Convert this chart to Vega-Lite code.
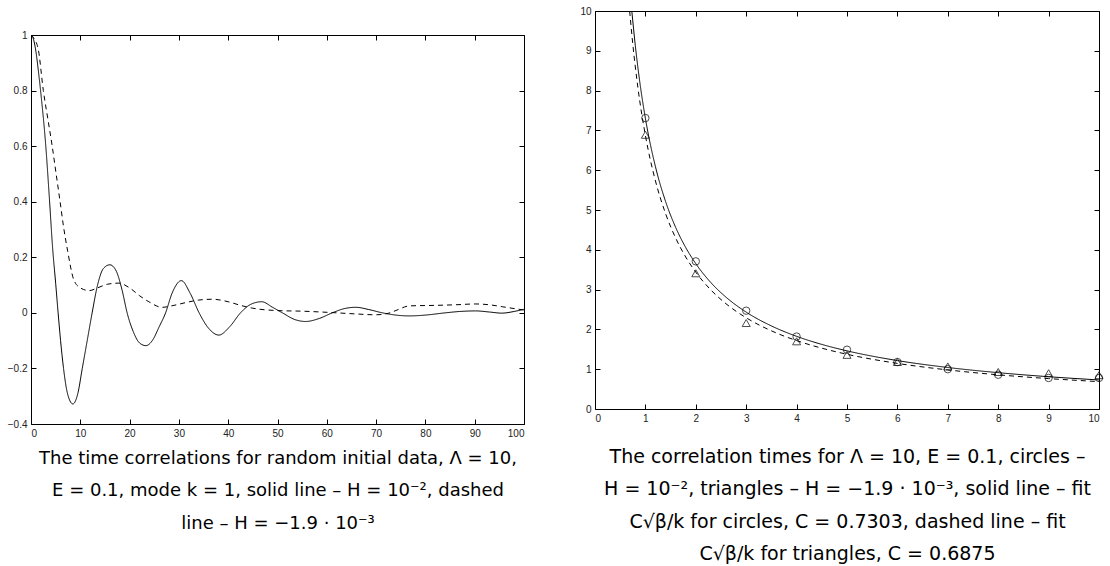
{
  "$schema": "https://vega.github.io/schema/vega-lite/v6.json",
  "padding": {"left": 6, "top": 5, "right": 0, "bottom": 0},
  "background": "white",
  "config": {
    "view": {"stroke": "black", "strokeWidth": 1},
    "font": "DejaVu Sans",
    "axis": {"domain": false, "grid": false, "tickColor": "black", "tickSize": -5, "labelPadding": 9, "labelFont": "Liberation Sans", "labelFontSize": 10, "labelColor": "#222", "titleFont": "DejaVu Sans", "titleFontSize": 19, "titleFontWeight": "normal", "titleColor": "black", "titleLineHeight": 32.5}
  },
  "datasets": {
    "corr": [
      {"t": 0, "v": 1, "series": "solid"},
      {"t": 0.5, "v": 0.985, "series": "solid"},
      {"t": 1, "v": 0.94, "series": "solid"},
      {"t": 1.5, "v": 0.87, "series": "solid"},
      {"t": 2, "v": 0.79, "series": "solid"},
      {"t": 3, "v": 0.6, "series": "solid"},
      {"t": 3.7, "v": 0.42, "series": "solid"},
      {"t": 4.4, "v": 0.23, "series": "solid"},
      {"t": 5, "v": 0.107, "series": "solid"},
      {"t": 5.5, "v": 0.0, "series": "solid"},
      {"t": 6, "v": -0.1, "series": "solid"},
      {"t": 6.6, "v": -0.2, "series": "solid"},
      {"t": 7.4, "v": -0.29, "series": "solid"},
      {"t": 8.5, "v": -0.328, "series": "solid"},
      {"t": 9.5, "v": -0.29, "series": "solid"},
      {"t": 10.4, "v": -0.2, "series": "solid"},
      {"t": 11.5, "v": -0.09, "series": "solid"},
      {"t": 12.4, "v": 0.0, "series": "solid"},
      {"t": 13.5, "v": 0.1, "series": "solid"},
      {"t": 14.7, "v": 0.16, "series": "solid"},
      {"t": 16, "v": 0.173, "series": "solid"},
      {"t": 17.3, "v": 0.15, "series": "solid"},
      {"t": 18.5, "v": 0.08, "series": "solid"},
      {"t": 19.5, "v": 0.0, "series": "solid"},
      {"t": 20.8, "v": -0.07, "series": "solid"},
      {"t": 22, "v": -0.108, "series": "solid"},
      {"t": 23.3, "v": -0.118, "series": "solid"},
      {"t": 24.6, "v": -0.1, "series": "solid"},
      {"t": 26, "v": -0.05, "series": "solid"},
      {"t": 27.3, "v": 0.0, "series": "solid"},
      {"t": 28.6, "v": 0.07, "series": "solid"},
      {"t": 30.5, "v": 0.116, "series": "solid"},
      {"t": 32.3, "v": 0.07, "series": "solid"},
      {"t": 34.1, "v": 0.0, "series": "solid"},
      {"t": 36, "v": -0.055, "series": "solid"},
      {"t": 38.1, "v": -0.08, "series": "solid"},
      {"t": 40.3, "v": -0.05, "series": "solid"},
      {"t": 42.5, "v": 0.0, "series": "solid"},
      {"t": 44.5, "v": 0.03, "series": "solid"},
      {"t": 46.8, "v": 0.04, "series": "solid"},
      {"t": 49, "v": 0.02, "series": "solid"},
      {"t": 51, "v": 0.0, "series": "solid"},
      {"t": 53.5, "v": -0.024, "series": "solid"},
      {"t": 55.7, "v": -0.031, "series": "solid"},
      {"t": 58.5, "v": -0.02, "series": "solid"},
      {"t": 61.1, "v": 0.0, "series": "solid"},
      {"t": 63.5, "v": 0.015, "series": "solid"},
      {"t": 65.9, "v": 0.02, "series": "solid"},
      {"t": 68.5, "v": 0.012, "series": "solid"},
      {"t": 71.3, "v": 0.0, "series": "solid"},
      {"t": 74, "v": -0.008, "series": "solid"},
      {"t": 76.7, "v": -0.011, "series": "solid"},
      {"t": 80, "v": -0.008, "series": "solid"},
      {"t": 84, "v": 0.0, "series": "solid"},
      {"t": 87, "v": 0.005, "series": "solid"},
      {"t": 90.2, "v": 0.007, "series": "solid"},
      {"t": 93, "v": 0.003, "series": "solid"},
      {"t": 95.5, "v": -0.001, "series": "solid"},
      {"t": 98, "v": 0.005, "series": "solid"},
      {"t": 100, "v": 0.013, "series": "solid"},
      {"t": 0, "v": 1, "series": "dashed"},
      {"t": 0.7, "v": 0.985, "series": "dashed"},
      {"t": 1.5, "v": 0.946, "series": "dashed"},
      {"t": 2.5, "v": 0.8, "series": "dashed"},
      {"t": 3.4, "v": 0.7, "series": "dashed"},
      {"t": 4.3, "v": 0.6, "series": "dashed"},
      {"t": 5.1, "v": 0.5, "series": "dashed"},
      {"t": 5.9, "v": 0.4, "series": "dashed"},
      {"t": 6.6, "v": 0.31, "series": "dashed"},
      {"t": 7.4, "v": 0.226, "series": "dashed"},
      {"t": 8.7, "v": 0.118, "series": "dashed"},
      {"t": 10, "v": 0.09, "series": "dashed"},
      {"t": 11.8, "v": 0.08, "series": "dashed"},
      {"t": 13.5, "v": 0.09, "series": "dashed"},
      {"t": 15.5, "v": 0.103, "series": "dashed"},
      {"t": 17.8, "v": 0.107, "series": "dashed"},
      {"t": 20, "v": 0.09, "series": "dashed"},
      {"t": 22, "v": 0.062, "series": "dashed"},
      {"t": 23.9, "v": 0.04, "series": "dashed"},
      {"t": 26.6, "v": 0.02, "series": "dashed"},
      {"t": 29, "v": 0.027, "series": "dashed"},
      {"t": 31.4, "v": 0.037, "series": "dashed"},
      {"t": 34, "v": 0.046, "series": "dashed"},
      {"t": 36.8, "v": 0.049, "series": "dashed"},
      {"t": 40, "v": 0.04, "series": "dashed"},
      {"t": 42.5, "v": 0.027, "series": "dashed"},
      {"t": 44.9, "v": 0.017, "series": "dashed"},
      {"t": 50.3, "v": 0.008, "series": "dashed"},
      {"t": 55, "v": 0.006, "series": "dashed"},
      {"t": 61.1, "v": 0.001, "series": "dashed"},
      {"t": 66, "v": -0.004, "series": "dashed"},
      {"t": 69.9, "v": -0.007, "series": "dashed"},
      {"t": 72.6, "v": -0.001, "series": "dashed"},
      {"t": 74.5, "v": 0.012, "series": "dashed"},
      {"t": 76.7, "v": 0.025, "series": "dashed"},
      {"t": 82.1, "v": 0.027, "series": "dashed"},
      {"t": 86, "v": 0.029, "series": "dashed"},
      {"t": 90.2, "v": 0.032, "series": "dashed"},
      {"t": 93, "v": 0.029, "series": "dashed"},
      {"t": 95.6, "v": 0.022, "series": "dashed"},
      {"t": 100, "v": 0.01, "series": "dashed"}
    ],
    "fits": [
      {"k": 0.7303, "tau": 10, "series": "solid"},
      {"k": 0.8, "tau": 9.129, "series": "solid"},
      {"k": 0.9, "tau": 8.114, "series": "solid"},
      {"k": 1, "tau": 7.303, "series": "solid"},
      {"k": 1.2, "tau": 6.086, "series": "solid"},
      {"k": 1.4, "tau": 5.216, "series": "solid"},
      {"k": 1.6, "tau": 4.564, "series": "solid"},
      {"k": 1.8, "tau": 4.057, "series": "solid"},
      {"k": 2, "tau": 3.652, "series": "solid"},
      {"k": 2.3, "tau": 3.175, "series": "solid"},
      {"k": 2.6, "tau": 2.809, "series": "solid"},
      {"k": 3, "tau": 2.434, "series": "solid"},
      {"k": 3.5, "tau": 2.087, "series": "solid"},
      {"k": 4, "tau": 1.826, "series": "solid"},
      {"k": 4.5, "tau": 1.623, "series": "solid"},
      {"k": 5, "tau": 1.461, "series": "solid"},
      {"k": 6, "tau": 1.217, "series": "solid"},
      {"k": 7, "tau": 1.043, "series": "solid"},
      {"k": 8, "tau": 0.913, "series": "solid"},
      {"k": 9, "tau": 0.811, "series": "solid"},
      {"k": 10, "tau": 0.73, "series": "solid"},
      {"k": 0.6875, "tau": 10, "series": "dashed"},
      {"k": 0.75, "tau": 9.167, "series": "dashed"},
      {"k": 0.85, "tau": 8.088, "series": "dashed"},
      {"k": 1, "tau": 6.875, "series": "dashed"},
      {"k": 1.2, "tau": 5.729, "series": "dashed"},
      {"k": 1.4, "tau": 4.911, "series": "dashed"},
      {"k": 1.6, "tau": 4.297, "series": "dashed"},
      {"k": 1.8, "tau": 3.819, "series": "dashed"},
      {"k": 2, "tau": 3.438, "series": "dashed"},
      {"k": 2.3, "tau": 2.989, "series": "dashed"},
      {"k": 2.6, "tau": 2.644, "series": "dashed"},
      {"k": 3, "tau": 2.292, "series": "dashed"},
      {"k": 3.5, "tau": 1.964, "series": "dashed"},
      {"k": 4, "tau": 1.719, "series": "dashed"},
      {"k": 4.5, "tau": 1.528, "series": "dashed"},
      {"k": 5, "tau": 1.375, "series": "dashed"},
      {"k": 6, "tau": 1.146, "series": "dashed"},
      {"k": 7, "tau": 0.982, "series": "dashed"},
      {"k": 8, "tau": 0.859, "series": "dashed"},
      {"k": 9, "tau": 0.764, "series": "dashed"},
      {"k": 10, "tau": 0.688, "series": "dashed"}
    ],
    "pts": [
      {"k": 1, "tau": 7.31, "kind": "circle"},
      {"k": 2, "tau": 3.71, "kind": "circle"},
      {"k": 3, "tau": 2.47, "kind": "circle"},
      {"k": 4, "tau": 1.82, "kind": "circle"},
      {"k": 5, "tau": 1.49, "kind": "circle"},
      {"k": 6, "tau": 1.18, "kind": "circle"},
      {"k": 7, "tau": 1.0, "kind": "circle"},
      {"k": 8, "tau": 0.86, "kind": "circle"},
      {"k": 9, "tau": 0.78, "kind": "circle"},
      {"k": 10, "tau": 0.78, "kind": "circle"},
      {"k": 1, "tau": 6.89, "kind": "triangle"},
      {"k": 2, "tau": 3.41, "kind": "triangle"},
      {"k": 3, "tau": 2.16, "kind": "triangle"},
      {"k": 4, "tau": 1.7, "kind": "triangle"},
      {"k": 5, "tau": 1.36, "kind": "triangle"},
      {"k": 6, "tau": 1.18, "kind": "triangle"},
      {"k": 7, "tau": 1.07, "kind": "triangle"},
      {"k": 8, "tau": 0.93, "kind": "triangle"},
      {"k": 9, "tau": 0.9, "kind": "triangle"},
      {"k": 10, "tau": 0.85, "kind": "triangle"}
    ],
    "blank": [{"u": 0}]
  },
  "hconcat": [
    {
      "spacing": 14,
      "vconcat": [
        {
          "width": 493,
          "height": 4,
          "view": {"stroke": null},
          "data": {"name": "blank"},
          "mark": {"type": "point", "opacity": 0, "size": 1},
          "encoding": {}
        },
        {
          "width": 493,
          "height": 389,
          "data": {"name": "corr"},
          "layer": [
            {
              "mark": {"type": "line", "interpolate": "monotone", "color": "black", "strokeWidth": 1, "clip": true},
              "encoding": {
                "x": {"field": "t", "type": "quantitative", "scale": {"domain": [0, 100], "nice": false, "zero": false},
                      "axis": {"orient": "bottom", "values": [0, 10, 20, 30, 40, 50, 60, 70, 80, 90, 100],
                               "title": ["The time correlations for random initial data, Λ = 10,", "E = 0.1, mode k = 1, solid line – H = 10⁻², dashed", "line – H = −1.9 · 10⁻³"], "titleFontSize": 18, "titlePadding": 11}},
                "y": {"field": "v", "type": "quantitative", "scale": {"domain": [-0.4, 1], "nice": false, "zero": false},
                      "axis": {"orient": "left", "values": [-0.4, -0.2, 0, 0.2, 0.4, 0.6, 0.8, 1], "format": "~g", "title": null}},
                "strokeDash": {"field": "series", "type": "nominal", "scale": {"domain": ["solid", "dashed"], "range": [[1, 0], [5, 4]]}, "legend": null}
              }
            },
            {
              "mark": {"type": "point", "opacity": 0},
              "encoding": {
                "x": {"field": "t", "type": "quantitative", "axis": {"orient": "top", "values": [0, 10, 20, 30, 40, 50, 60, 70, 80, 90, 100], "labels": false, "title": null}},
                "y": {"field": "v", "type": "quantitative", "axis": {"orient": "right", "values": [-0.4, -0.2, 0, 0.2, 0.4, 0.6, 0.8, 1], "labels": false, "title": null}}
              }
            }
          ],
          "resolve": {"axis": {"x": "independent", "y": "independent"}}
        }
      ]
    },
    {
      "width": 504,
      "height": 398,
      "layer": [
        {
          "data": {"name": "fits"},
          "mark": {"type": "line", "interpolate": "monotone", "color": "black", "strokeWidth": 1, "clip": true},
          "encoding": {
            "x": {"field": "k", "type": "quantitative", "scale": {"domain": [0, 10], "nice": false},
                  "axis": {"orient": "bottom", "values": [0, 1, 2, 3, 4, 5, 6, 7, 8, 9, 10],
                           "title": ["The correlation times for Λ = 10, E = 0.1, circles –", "H = 10⁻², triangles – H = −1.9 · 10⁻³, solid line – fit", "C√β/k for circles, C = 0.7303, dashed line – fit", "C√β/k for triangles, C = 0.6875"], "titlePadding": 24}},
            "y": {"field": "tau", "type": "quantitative", "scale": {"domain": [0, 10], "nice": false},
                  "axis": {"orient": "left", "values": [0, 1, 2, 3, 4, 5, 6, 7, 8, 9, 10], "title": null}},
            "strokeDash": {"field": "series", "type": "nominal", "scale": {"domain": ["solid", "dashed"], "range": [[1, 0], [5, 4]]}, "legend": null}
          }
        },
        {
          "data": {"name": "pts"},
          "mark": {"type": "point", "filled": false, "color": "black", "strokeWidth": 1},
          "encoding": {
            "x": {"field": "k", "type": "quantitative", "axis": null},
            "y": {"field": "tau", "type": "quantitative", "axis": null},
            "shape": {"field": "kind", "type": "nominal", "scale": {"domain": ["circle", "triangle"], "range": ["circle", "triangle-up"]}, "legend": null},
            "size": {"field": "kind", "type": "nominal", "scale": {"domain": ["circle", "triangle"], "range": [55, 65]}, "legend": null}
          }
        },
        {
          "data": {"name": "pts"},
          "mark": {"type": "point", "opacity": 0},
          "encoding": {
            "x": {"field": "k", "type": "quantitative", "axis": {"orient": "top", "values": [0, 1, 2, 3, 4, 5, 6, 7, 8, 9, 10], "labels": false, "title": null}},
            "y": {"field": "tau", "type": "quantitative", "axis": {"orient": "right", "values": [0, 1, 2, 3, 4, 5, 6, 7, 8, 9, 10], "labels": false, "title": null}}
          }
        }
      ],
      "resolve": {"axis": {"x": "independent", "y": "independent"}}
    }
  ],
  "spacing": 51
}
